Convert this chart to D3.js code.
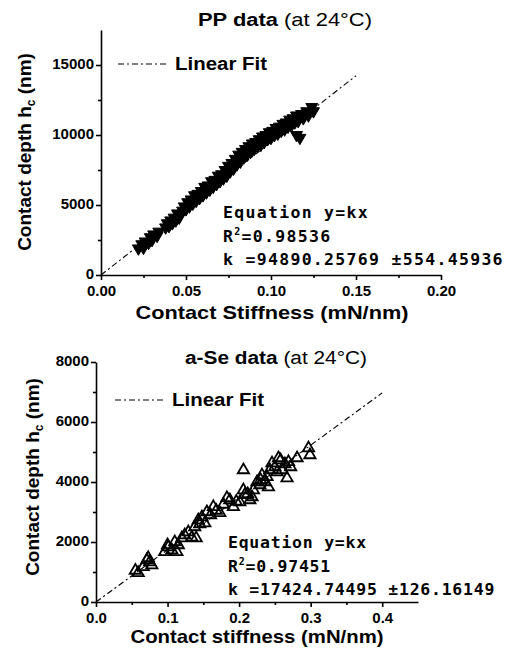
<!DOCTYPE html>
<html lang="en">
<head>
    <meta charset="UTF-8">
    <title>Contact depth vs contact stiffness</title>
    <script src="https://d3js.org/d3.v7.min.js"></script>
    <style>
        body {
            margin: 0;
            background: #fff;
            font-family: "Liberation Sans", Arial, sans-serif;
        }
        .axis path, .axis line {
            stroke: #000;
            stroke-width: 1.6;
        }
        .axis text {
            font-size: 15px;
            font-weight: bold;
            fill: #000;
        }
        .fit {
            fill: none;
            stroke: #000;
            stroke-width: 1.1;
            stroke-dasharray: 6 3 2 3;
        }
        .eq {
            font-family: "DejaVu Sans Mono", monospace;
            font-size: 16.5px;
            font-weight: bold;
        }
        .lab {
            font-weight: bold;
            font-size: 19px;
        }
    </style>
</head>
<body>
<svg id="chart" width="508" height="649"></svg>
<script>
    // PP data (top panel): contact stiffness (mN/nm), contact depth (nm)
    const ppStiffness = [0.022, 0.024, 0.025, 0.026, 0.028, 0.029, 0.030, 0.031, 0.033, 0.034,
        0.038, 0.039, 0.040, 0.041, 0.042, 0.043, 0.044, 0.045, 0.046,
        0.048, 0.049, 0.050, 0.051, 0.052, 0.053, 0.054, 0.055, 0.056, 0.057,
        0.058, 0.059, 0.060, 0.061, 0.062, 0.063, 0.064, 0.065, 0.066, 0.067,
        0.068, 0.069, 0.070, 0.071, 0.072, 0.073, 0.074, 0.075, 0.076, 0.077,
        0.078, 0.079, 0.080, 0.081, 0.082, 0.083, 0.084, 0.085, 0.086, 0.087,
        0.088, 0.089, 0.090, 0.091, 0.092, 0.093, 0.094, 0.095, 0.096, 0.097,
        0.098, 0.099, 0.100, 0.101, 0.102, 0.103, 0.104, 0.105, 0.106, 0.107,
        0.108, 0.109, 0.110, 0.111, 0.112, 0.113, 0.114, 0.115, 0.116,
        0.118, 0.119, 0.121, 0.122, 0.124, 0.125, 0.115, 0.117];
    const ppDepth = [1900, 2200, 1950, 2400, 2300, 2700, 2500, 2900, 2800, 3100,
        3400, 3700, 3500, 3900, 3700, 4100, 3900, 4400, 4100,
        4600, 4900, 4700, 5200, 4900, 5400, 5100, 5700, 5300, 5800,
        5500, 6000, 5700, 6300, 5900, 6400, 6100, 6700, 6300, 6800,
        6500, 7100, 6700, 7200, 6900, 7500, 7100, 7800, 7400, 8000,
        7600, 8300, 7900, 8600, 8100, 8800, 8400, 9000, 8600, 9200,
        8800, 9400, 9000, 9500, 9200, 9700, 9300, 9900, 9500, 10000,
        9700, 10200, 9800, 10300, 10000, 10500, 10100, 10600, 10300, 10800,
        10400, 10900, 10600, 11100, 10700, 11200, 10900, 11400, 11000,
        11500, 11200, 11700, 11400, 12000, 11700, 10000, 9800];

    // a-Se data (bottom panel)
    const seStiffness = [0.055, 0.059, 0.066, 0.071, 0.073, 0.075, 0.078,
        0.096, 0.100, 0.101, 0.106, 0.110, 0.113, 0.115,
        0.120, 0.124, 0.129, 0.134, 0.138, 0.140, 0.143, 0.145, 0.148, 0.152, 0.155,
        0.160, 0.164, 0.168, 0.173, 0.178, 0.183, 0.187, 0.192, 0.196, 0.201,
        0.206, 0.208, 0.212, 0.215, 0.218, 0.220, 0.225, 0.229, 0.230, 0.232,
        0.236, 0.239, 0.241, 0.243, 0.246, 0.250, 0.253, 0.255, 0.258, 0.260,
        0.264, 0.267, 0.269, 0.272, 0.281, 0.297, 0.299, 0.206];
    const seDepth = [1050, 970, 1170, 1400, 1470, 1330, 1230,
        1670, 1900, 1830, 1730, 2000, 1670, 1900,
        2130, 2230, 2330, 2150, 2500, 2130, 2730, 2600, 2830, 2630, 3000,
        2900, 3170, 3050, 2970, 3250, 3470, 3400, 3170, 3350, 3330,
        3730, 3570, 3600, 3400, 3500, 3730, 4000, 3900, 4070, 4230,
        4000, 4170, 3830, 4400, 4630, 4500, 4330, 4800, 4730, 4400,
        4600, 4130, 4670, 4500, 4800, 5130, 4900, 4400];

    // fit results
    const ppK = 94890.25769, seK = 17424.74495;
    const ppEq = ["Equation y=kx", "0.98536", "k =94890.25769 ±554.45936"];
    const seEq = ["Equation y=kx", "0.97451", "k =17424.74495 ±126.16149"];

    // tick values
    const ppXTicks = [0, 0.05, 0.10, 0.15, 0.20];
    const ppYTicks = [0, 5000, 10000, 15000];
    const seXTicks = [0, 0.1, 0.2, 0.3, 0.4];
    const seYTicks = [0, 2000, 4000, 6000, 8000];

    const svg = d3.select("#chart");

    function panel(cfg) {
        const g = svg.append("g");
        const x = d3.scaleLinear().domain(cfg.xDomain).range(cfg.xRange);
        const y = d3.scaleLinear().domain(cfg.yDomain).range(cfg.yRange);

        // minor ticks
        g.append("g").attr("class", "axis")
            .attr("transform", `translate(0,${cfg.yRange[0]})`)
            .call(d3.axisBottom(x).tickValues(cfg.xMinor).tickSize(3).tickFormat(""))
            .select(".domain").remove();
        g.append("g").attr("class", "axis")
            .attr("transform", `translate(${cfg.xRange[0]},0)`)
            .call(d3.axisLeft(y).tickValues(cfg.yMinor).tickSize(3).tickFormat(""))
            .select(".domain").remove();

        // main axes
        g.append("g").attr("class", "axis")
            .attr("transform", `translate(0,${cfg.yRange[0]})`)
            .call(d3.axisBottom(x).tickValues(cfg.xTicks).tickSize(5).tickSizeOuter(0)
                .tickFormat(d3.format(cfg.xFormat)))
            .call(a => a.selectAll("text").attr("dy", "0.85em"));
        g.append("g").attr("class", "axis")
            .attr("transform", `translate(${cfg.xRange[0]},0)`)
            .call(d3.axisLeft(y).tickValues(cfg.yTicks).tickSize(5).tickSizeOuter(0)
                .tickFormat(d3.format("d")))
            .call(a => a.selectAll("text").attr("x", -7).attr("dy", "0.2em"));

        // linear fit, through origin
        const fitX = [0, cfg.fitEnd];
        g.append("path").attr("class", "fit")
            .attr("d", d3.line().x(d => x(d)).y(d => y(d * cfg.k))(fitX));

        // data markers
        const pts = cfg.xs.map((v, i) => [v, cfg.ys[i]]);
        g.selectAll(".pt").data(pts).enter().append("path")
            .attr("class", "pt")
            .attr("transform", d => `translate(${x(d[0])},${y(d[1])})` + (cfg.filled ? " rotate(180)" : ""))
            .attr("d", d3.symbol().type(d3.symbolTriangle).size(cfg.filled ? 62 : 55))
            .attr("fill", cfg.filled ? "#000" : "none")
            .attr("stroke", "#000")
            .attr("stroke-width", cfg.filled ? 1 : 1.8);

        // legend
        g.append("line").attr("class", "fit")
            .attr("x1", cfg.legend[0]).attr("x2", cfg.legend[0] + 48)
            .attr("y1", cfg.legend[1]).attr("y2", cfg.legend[1]);
        g.append("text")
            .attr("x", cfg.legend[0] + 57).attr("y", cfg.legend[1] + 6)
            .style("font-size", "17.5px")
            .style("font-weight", "bold")
            .attr("textLength", 92).attr("lengthAdjust", "spacingAndGlyphs")
            .text("Linear Fit");

        // title
        const t = g.append("text").attr("class", "lab")
            .attr("x", cfg.title[1] - cfg.title[3] / 2).attr("y", cfg.title[2])
            .style("font-size", "18px")
            .attr("textLength", cfg.title[3]).attr("lengthAdjust", "spacingAndGlyphs");
        t.append("tspan").text(cfg.title[0] + " ");
        t.append("tspan").attr("font-weight", "normal").text("(at 24°C)");

        // axis titles
        g.append("text").attr("class", "lab")
            .attr("x", cfg.xLabel[1] - cfg.xLabel[3] / 2).attr("y", cfg.xLabel[2])
            .attr("textLength", cfg.xLabel[3]).attr("lengthAdjust", "spacingAndGlyphs")
            .text(cfg.xLabel[0]);
        const yl = g.append("text").attr("class", "lab")
            .attr("transform", `translate(${cfg.yLabel[0]},${cfg.yLabel[1]}) rotate(-90)`)
            .attr("text-anchor", "middle");
        yl.append("tspan").text("Contact depth h");
        yl.append("tspan").attr("font-size", "12px").attr("dy", 4).text("c");
        yl.append("tspan").attr("dy", -4).text(" (nm)");

        // equation box
        const e = g.append("g").attr("class", "eq")
            .attr("transform", `translate(${cfg.eq[0]},${cfg.eq[1]})`)
            .style("letter-spacing", cfg.eq[2] + "px");
        e.append("text").attr("y", 0).text(cfg.eqText[0]);
        const r2 = e.append("text").attr("y", 23.5);
        r2.append("tspan").text("R");
        r2.append("tspan").attr("font-size", "10px").attr("dy", -7).text("2");
        r2.append("tspan").attr("dy", 7).text("=" + cfg.eqText[1]);
        e.append("text").attr("y", 47).text(cfg.eqText[2]);
    }

    panel({
        xs: ppStiffness, ys: ppDepth, filled: true, k: ppK, fitEnd: 0.15,
        xDomain: [0, 0.20], xRange: [101, 441],
        yDomain: [0, 17500], yRange: [275, 30],
        xTicks: ppXTicks, xMinor: [0.025, 0.075, 0.125, 0.175], xFormat: ".2f",
        yTicks: ppYTicks, yMinor: [2500, 7500, 12500],
        legend: [118, 64],
        title: ["PP data", 285, 26, 174],
        xLabel: ["Contact Stiffness (mN/nm)", 272, 319, 273],
        yLabel: [31, 152],
        eq: [223, 218, 1.3], eqText: ppEq
    });

    panel({
        xs: seStiffness, ys: seDepth, filled: false, k: seK, fitEnd: 0.4,
        xDomain: [0, 0.45], xRange: [96, 418],
        yDomain: [0, 8000], yRange: [602, 362],
        xTicks: seXTicks, xMinor: [0.05, 0.15, 0.25, 0.35], xFormat: ".1f",
        yTicks: seYTicks, yMinor: [1000, 3000, 5000, 7000],
        legend: [115, 400],
        title: ["a-Se data", 276, 364, 182],
        xLabel: ["Contact stiffness (mN/nm)", 257, 643, 253],
        yLabel: [39, 477],
        eq: [228, 548, 0.75], eqText: seEq
    });
</script>
</body>
</html>
